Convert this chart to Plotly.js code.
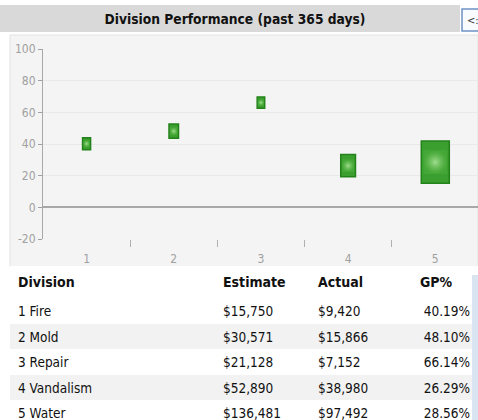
<!DOCTYPE html>
<html>
<head>
<meta charset="utf-8">
<script src="https://cdn.plot.ly/plotly-3.0.1.min.js"></script>
<style>
html,body{margin:0;padding:0;background:#fff;}
#chart{width:478px;height:420px;}
</style>
</head>
<body>
<div id="chart"></div>
<script>
// ---- data ----
const divisionIds = [1, 2, 3, 4, 5];
const divisions = ['Fire', 'Mold', 'Repair', 'Vandalism', 'Water'];
const estimate = [15750, 30571, 21128, 52890, 136481];
const actual = [9420, 15866, 7152, 38980, 97492];
const gpPct = [40.19, 48.10, 66.14, 26.29, 28.56];
const yTicks = [-20, 0, 20, 40, 60, 80, 100];
const title = 'Division Performance (past 365 days)';
const headers = ['Division', 'Estimate', 'Actual', 'GP%'];

// ---- styling helpers ----
const W = 478, H = 420;
const FONT = '"DejaVu Sans Condensed", "Liberation Sans Narrow", sans-serif';
const px = v => v / W, py = v => 1 - v / H;

// marker pixel width from Actual value; rectangles 1.5x taller than wide
const sizePx = actual.map(a => 5.9 + a / 4400);
const xUnitPx = 87.25, yUnitPx = 1.58;
const barW = sizePx.map(s => s / xUnitPx);
const barH = sizePx.map(s => 1.5 * s / yUnitPx);
const barBase = gpPct.map((g, i) => g - barH[i] / 2);

const money = v => '$' + v.toLocaleString('en-US');

const traces = [
  {
    type: 'bar', x: divisionIds, y: barH, base: barBase, width: barW,
    marker: {color: '#3a9f2e', line: {color: '#23821a', width: 1.5}},
    hoverinfo: 'skip', showlegend: false
  },
  {
    type: 'scatter', mode: 'markers', x: divisionIds, y: gpPct,
    marker: {symbol: 'square', size: sizePx.map(s => s * 0.85),
      color: 'rgba(90,185,70,0.45)', line: {width: 0},
      gradient: {type: 'radial', color: 'rgba(205,248,185,1)'}},
    showlegend: false
  },
  {
    type: 'table',
    domain: {x: [10 / W, 1], y: [0, py(266)]},
    columnwidth: [205, 95, 102, 66],
    header: {
      values: headers.map(h => '<b>' + h + '</b>'),
      align: ['left', 'left', 'left', 'left'],
      height: 20,
      fill: {color: 'white'},
      line: {width: 0, color: 'white'},
      font: {family: FONT, size: 14, color: '#111'}
    },
    cells: {
      values: [
        divisionIds.map((id, i) => id + ' ' + divisions[i]),
        estimate.map(money),
        actual.map(money),
        gpPct.map(g => g.toFixed(2) + '%')
      ],
      align: ['left', 'left', 'left', 'right'],
      height: 25.5,
      fill: {color: [divisionIds.map((d, i) => i % 2 ? '#f2f2f2' : '#ffffff')]},
      line: {width: 0, color: 'white'},
      font: {family: FONT, size: 13.5, color: '#111'}
    }
  }
];

const layout = {
  width: W, height: H,
  margin: {l: 0, r: 0, t: 0, b: 0},
  paper_bgcolor: '#ffffff',
  plot_bgcolor: 'rgba(0,0,0,0)',
  font: {family: FONT, color: '#999'},
  barmode: 'overlay',
  title: {text: '<b>' + title + '</b>', x: 235 / W, xanchor: 'center', y: py(19), yanchor: 'middle',
    font: {family: FONT, size: 13.7, color: '#111'}},
  xaxis: {
    domain: [43 / W, 1], range: [0.5, 5.49],
    tickvals: divisionIds, ticktext: divisionIds.map(String),
    ticks: '', showgrid: false, zeroline: false, showline: false,
    tickfont: {family: FONT, size: 12, color: '#a0a0a0'},
    ticklabelstandoff: 11,
    minor: {tickvals: [1.5, 2.5, 3.5, 4.5], ticks: 'outside', ticklen: 7, tickcolor: '#b0b0b0', tickwidth: 1, showgrid: false},
    fixedrange: true
  },
  yaxis: {
    domain: [py(239), py(49)], range: [-20, 100],
    tickvals: yTicks, ticktext: yTicks.map(String), ticks: 'outside', ticklen: 4, tickcolor: '#a0a0a0',
    showline: true, linecolor: '#a8a8a8', linewidth: 1,
    showgrid: true, gridcolor: '#e9e9e9', gridwidth: 1,
    zeroline: true, zerolinecolor: '#a8a8a8', zerolinewidth: 2,
    tickfont: {family: FONT, size: 12, color: '#a0a0a0'},
    fixedrange: true
  },
  shapes: [
    {type: 'rect', xref: 'paper', yref: 'paper', x0: 0, x1: px(460), y0: py(32), y1: py(5),
      fillcolor: '#d9d9d9', line: {width: 0}, layer: 'below'},
    {type: 'rect', xref: 'paper', yref: 'paper', x0: px(10), x1: 1, y0: py(267), y1: py(35),
      fillcolor: '#f4f4f4', line: {width: 1, color: '#e2e2e2'}, layer: 'below'},
    {type: 'rect', xref: 'paper', yref: 'paper', x0: px(462), x1: px(480), y0: py(31), y1: py(9),
      fillcolor: '#f8fbff', line: {width: 1.5, color: '#6f93c4'}},
    {type: 'rect', xref: 'paper', yref: 'paper', x0: px(472), x1: 1, y0: 0, y1: py(275),
      fillcolor: '#dbe5f1', line: {width: 0}}
  ],
  annotations: [
    {text: '<:', xref: 'paper', yref: 'paper', x: px(465), y: py(20), xanchor: 'left', yanchor: 'middle',
      showarrow: false, font: {family: FONT, size: 11, color: '#333'}}
  ]
};

Plotly.newPlot('chart', traces, layout, {staticPlot: true, displayModeBar: false});
</script>
</body>
</html>
